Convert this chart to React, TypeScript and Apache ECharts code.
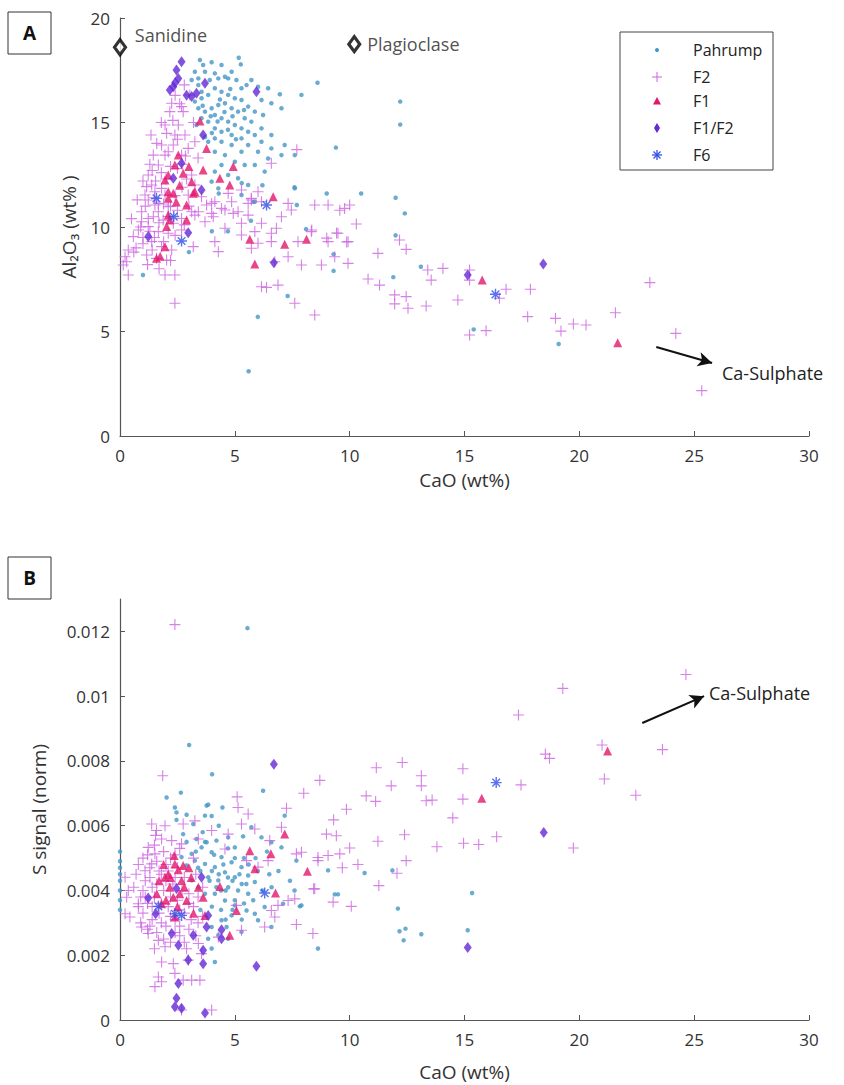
import React, { useEffect, useRef } from "react";
import * as echarts from "echarts";

// ---------- tick values ----------
const xTicks = [0, 5, 10, 15, 20, 25, 30];
const yTicksA = [0, 5, 10, 15, 20];
const yTicksB = [0, 0.002, 0.004, 0.006, 0.008, 0.01, 0.012];

const seriesNames = ["Pahrump", "F2", "F1", "F1/F2", "F6"];

// ---------- Panel A : Al2O3 vs CaO ----------
const pahrumpA = [
  [3.48, 17.99], [3.62, 17.75], [3.99, 17.88], [4.42, 17.75], [5.17, 18.1], [5.26, 17.78], [4.86, 17.43], [4.57, 17.19],
  [4.13, 17.35], [3.26, 17.43], [3.7, 17.43], [3.41, 17.11], [3.91, 17.03], [4.28, 17.11], [4.71, 17.11], [5.07, 17.03],
  [5.29, 16.64], [5.51, 16.79], [5.72, 17.03], [6.01, 16.71], [6.45, 16.64], [6.96, 16.35], [7.9, 16.32], [6.16, 16.08],
  [6.59, 15.92], [7.03, 15.68], [6.23, 15.36], [5.87, 15.52], [5.58, 15.76], [5.29, 16.08], [5.0, 16.16], [4.71, 16.32],
  [4.42, 16.47], [4.13, 16.64], [3.84, 16.32], [3.55, 16.16], [3.26, 16.0], [3.41, 15.68], [3.7, 15.52], [3.99, 15.68],
  [4.28, 15.84], [4.57, 15.92], [4.86, 15.68], [5.14, 15.52], [5.43, 15.2], [5.72, 15.04], [6.16, 14.72], [6.59, 14.4],
  [7.17, 13.92], [7.61, 13.44], [7.03, 13.44], [6.59, 13.76], [6.16, 14.08], [5.87, 14.4], [5.58, 14.56], [5.29, 14.72],
  [5.0, 14.88], [4.71, 15.04], [4.42, 15.2], [4.13, 15.36], [3.84, 15.04], [3.55, 15.2], [3.33, 14.88], [4.13, 14.72],
  [4.42, 14.56], [4.86, 14.4], [5.29, 14.24], [5.58, 13.92], [6.01, 13.6], [6.45, 13.28], [5.29, 13.6], [4.86, 13.92],
  [4.42, 14.08], [4.13, 14.24], [3.84, 14.08], [4.13, 13.6], [4.57, 13.44], [5.0, 13.12], [5.43, 12.97], [5.87, 12.97],
  [6.3, 12.65], [4.42, 12.97], [4.13, 12.65], [4.71, 12.49], [5.14, 12.33], [5.58, 12.01], [7.61, 11.85], [3.99, 12.17],
  [4.28, 11.85], [5.29, 11.53], [5.87, 11.21], [3.55, 16.47], [3.41, 16.79], [3.12, 17.03],
  [3.6, 15.8], [3.95, 15.3], [4.25, 15.05], [4.55, 15.5], [4.9, 15.3], [4.7, 14.65], [4.0, 14.5], [3.7, 14.3],
  [4.35, 16.1], [4.8, 16.6], [5.4, 15.6], [5.05, 14.2],
  [8.6, 16.9], [12.2, 16.0], [12.2, 14.9], [9.4, 13.8], [9.0, 11.6], [10.5, 11.6], [12.0, 11.4], [12.4, 10.65],
  [12.0, 9.6], [1.0, 7.7], [3.0, 8.8], [4.0, 9.8], [4.7, 9.8], [5.7, 10.3], [6.0, 5.7], [5.6, 3.1], [7.3, 6.7],
  [8.1, 9.9], [9.3, 7.9], [9.3, 8.7], [11.9, 7.6], [13.1, 8.1], [15.4, 5.1], [19.1, 4.4], [6.2, 12.0], [7.6, 11.9],
  [7.7, 11.05], [5.8, 11.2], [4.3, 11.6], [5.3, 12.1],
];

const f2A = [
  [2.25, 15.92], [2.68, 15.76], [2.17, 15.52], [1.96, 14.88], [2.54, 14.88], [2.03, 14.48], [2.39, 14.4], [2.83, 14.4],
  [1.81, 13.92], [2.32, 13.92], [1.45, 13.44], [1.96, 13.44], [1.67, 12.97], [1.23, 12.49], [1.38, 12.01], [1.81, 11.85],
  [1.09, 11.53], [1.52, 11.05], [0.94, 10.73], [1.23, 10.41], [1.67, 10.73], [2.97, 11.53], [3.26, 12.01], [3.12, 12.49],
  [2.68, 13.44], [2.97, 13.76], [3.26, 14.08], [2.75, 15.52], [3.04, 16.32], [3.55, 11.45], [3.77, 11.05], [4.13, 11.21],
  [4.42, 10.89], [4.86, 11.21], [5.14, 10.73], [5.58, 10.57], [3.12, 10.73], [2.68, 10.41],
  [1.16, 11.93], [1.52, 11.69], [1.96, 11.53], [1.23, 11.29], [1.67, 11.13], [2.1, 10.97], [1.45, 10.49], [1.88, 10.33],
  [2.32, 10.18], [1.23, 10.02], [1.67, 9.78], [2.1, 9.7], [1.38, 9.3], [1.81, 9.06], [2.25, 8.9], [1.16, 8.66],
  [1.59, 8.5], [0.22, 8.58], [0.29, 8.34], [0.14, 8.18], [0.58, 9.54], [0.94, 10.25], [2.68, 9.86],
  [1.5, 9.5], [2.0, 12.3], [2.5, 12.8], [1.3, 13.0], [2.2, 11.0], [0.7, 9.0], [1.0, 9.2], [2.7, 13.0], [2.9, 12.3],
  [3.4, 13.3], [2.4, 16.3], [2.8, 16.8], [3.2, 15.0],
  [1.0, 12.2], [1.4, 12.7], [1.8, 12.6], [2.2, 12.9], [1.1, 11.0], [1.5, 11.4], [1.9, 11.1], [2.4, 11.5], [2.7, 11.9],
  [0.9, 10.0], [1.3, 9.8], [1.7, 10.2], [2.1, 10.5], [2.5, 10.8], [1.0, 9.5], [1.4, 8.9], [1.9, 9.3], [2.4, 9.6],
  [2.8, 10.1], [0.6, 8.8], [1.2, 8.2], [1.7, 8.0], [2.2, 8.4], [0.5, 10.4], [1.6, 14.0], [2.1, 13.6], [2.5, 14.2],
  [1.8, 15.0], [2.3, 15.1], [2.6, 15.9], [1.55, 12.2], [2.85, 13.4], [0.75, 11.3], [1.35, 14.4], [3.0, 11.0],
  [0.8, 9.86], [0.36, 8.9], [0.36, 7.7], [1.96, 7.7], [2.39, 7.7], [2.39, 6.35], [2.03, 8.42], [3.19, 9.06], [4.13, 9.3],
  [4.28, 8.82], [4.06, 10.49], [4.57, 10.81], [4.93, 10.65], [5.29, 10.18], [5.58, 11.13], [5.72, 11.37], [6.16, 10.18],
  [6.59, 9.7], [6.81, 9.94], [6.59, 9.3], [6.16, 7.14], [6.88, 7.22], [7.61, 6.35], [8.48, 5.79], [7.32, 8.58],
  [7.9, 8.18], [8.77, 8.18], [9.06, 9.3], [9.49, 9.7], [9.93, 9.3], [9.78, 10.89], [8.48, 11.05], [9.06, 11.05],
  [7.32, 11.13], [7.46, 10.81], [8.33, 9.78], [7.75, 9.3], [9.35, 8.58], [9.93, 8.26], [4.57, 9.94], [5.29, 9.62],
  [5.72, 8.98], [6.01, 9.22], [3.7, 10.25], [3.41, 10.73], [3.99, 11.13], [4.71, 11.61], [5.29, 11.77], [6.01, 11.69],
  [6.74, 8.34], [5.87, 9.78], [3.99, 10.65],
  [10.29, 10.14], [11.23, 8.74], [12.46, 8.93], [10.8, 7.51], [11.3, 7.22], [11.96, 6.75], [12.46, 6.67], [11.96, 6.32],
  [12.54, 6.11], [13.33, 6.22], [13.4, 7.94], [13.55, 7.46], [14.06, 8.02], [14.71, 6.51], [15.22, 7.46], [15.22, 4.83],
  [15.94, 5.04], [15.22, 7.94], [6.38, 7.11],
  [16.81, 7.02], [16.52, 6.59], [17.87, 7.02], [17.75, 5.71], [18.96, 5.63], [19.2, 5.02], [19.74, 5.36], [20.29, 5.31],
  [21.57, 5.9], [23.07, 7.34], [24.2, 4.91], [25.33, 2.17],
  [9.57, 10.8], [10.0, 11.05], [8.35, 9.86], [9.0, 9.47], [9.43, 9.71], [9.87, 9.28], [12.17, 9.38], [7.7, 13.7],
  [6.59, 13.05], [5.72, 11.29], [6.16, 11.21], [7.03, 10.49], [3.26, 10.57],
];

const f1A = [
  [3.48, 15.07], [3.77, 13.76], [4.93, 12.89], [4.35, 12.33], [4.78, 12.01], [3.62, 12.73], [3.12, 12.17], [2.54, 13.44],
  [2.39, 12.97], [2.1, 12.49], [1.96, 12.25], [2.75, 12.57], [3.26, 11.69], [6.67, 11.45], [2.1, 11.69], [2.1, 10.57],
  [2.9, 11.05], [2.1, 11.37], [2.32, 11.61], [2.9, 10.33], [2.17, 10.33], [2.03, 10.02], [1.96, 9.06], [1.59, 8.5],
  [3.19, 11.61], [5.65, 9.41], [7.17, 9.17], [8.12, 9.41], [5.87, 8.23], [15.77, 7.46], [21.67, 4.46], [2.6, 12.0],
  [2.45, 11.2], [3.0, 12.9], [1.75, 8.6],
];

const f12A = [
  [2.68, 17.91], [2.46, 17.51], [2.54, 17.11], [2.32, 16.71], [2.17, 16.55], [3.12, 16.24], [3.33, 16.4], [3.7, 16.88],
  [3.62, 14.4], [2.68, 13.05], [2.32, 12.33], [3.55, 11.77], [5.94, 16.47], [2.97, 9.73], [1.23, 9.54], [6.7, 8.29],
  [15.14, 7.7], [18.43, 8.23], [2.9, 16.3], [2.4, 16.9],
];

const f6A = [[1.59, 11.37], [2.34, 10.5], [2.68, 9.33], [6.38, 11.05], [16.35, 6.78]];

// ---------- Panel B : S signal vs CaO ----------
const pahrumpB = [
  [3.01, 0.00849], [5.55, 0.0121], [4.01, 0.00759], [2.65, 0.00702], [2.03, 0.00687], [6.23, 0.00708], [2.39, 0.00656],
  [3.77, 0.00662], [4.46, 0.00656], [7.17, 0.00631], [2.46, 0.00641], [2.9, 0.00634], [2.46, 0.00618], [3.84, 0.00665],
  [3.7, 0.00631], [3.99, 0.0063], [3.19, 0.00605], [2.75, 0.00574], [3.33, 0.00559], [3.77, 0.00549], [4.2, 0.00554],
  [4.71, 0.00564], [5.0, 0.00533], [5.36, 0.00567], [5.72, 0.00595], [6.16, 0.00564], [6.59, 0.00549], [7.03, 0.00533],
  [7.68, 0.00492], [8.62, 0.00221], [7.83, 0.00351],
  [2.68, 0.00503], [3.12, 0.00513], [3.55, 0.00533], [3.99, 0.00518], [4.42, 0.00503], [4.86, 0.00487], [5.29, 0.00472],
  [4.13, 0.00472], [3.7, 0.00482], [3.26, 0.00492], [2.9, 0.00477], [4.57, 0.00456], [5.0, 0.00441], [5.58, 0.00446],
  [5.87, 0.00426], [3.84, 0.00441], [4.28, 0.00431], [4.71, 0.0041], [5.14, 0.004], [5.58, 0.0039], [4.13, 0.0039],
  [4.57, 0.00369], [5.0, 0.00354], [5.51, 0.00338], [5.87, 0.00328], [4.86, 0.00323], [4.42, 0.00308], [3.99, 0.00287],
  [4.28, 0.00262], [4.71, 0.00251], [3.84, 0.00251], [3.99, 0.00221], [4.13, 0.00179], [4.64, 0.00287], [5.29, 0.00272],
  [6.01, 0.00308], [6.59, 0.00287], [6.3, 0.00349], [7.1, 0.00359], [3.41, 0.0041], [3.12, 0.00431],
  [0, 0.0052], [0, 0.0049], [0, 0.0047], [0, 0.0045], [0, 0.0043], [0, 0.004], [0, 0.0037], [0, 0.0034],
  [9.06, 0.00462], [10.65, 0.00454], [11.86, 0.00462], [9.35, 0.00388], [9.49, 0.00388], [12.1, 0.00344], [15.33, 0.00392],
  [7.9, 0.00354], [12.17, 0.00274], [12.43, 0.00282], [12.35, 0.00246], [13.12, 0.00265], [15.14, 0.00277],
  [3.4, 0.0047], [4.0, 0.0046], [4.9, 0.0043], [5.3, 0.0042], [4.4, 0.004], [5.8, 0.0037], [6.6, 0.0041], [6.0, 0.0046],
  [6.9, 0.0046], [5.4, 0.005], [4.7, 0.0053], [3.6, 0.0058], [4.3, 0.006], [6.4, 0.0052], [7.4, 0.0043], [7.6, 0.004],
  [2.9, 0.0055], [3.3, 0.0052], [3.7, 0.0055], [4.1, 0.0051], [4.5, 0.0048], [5.0, 0.005], [5.6, 0.0048], [3.5, 0.0046],
  [3.9, 0.0043], [4.3, 0.0045], [4.7, 0.0044], [5.2, 0.0045], [5.5, 0.0042], [3.7, 0.0039], [4.2, 0.0041], [4.6, 0.004],
  [5.0, 0.0037], [5.4, 0.0036], [6.2, 0.004], [4.0, 0.0035], [4.4, 0.0034], [4.9, 0.0034], [5.3, 0.0031], [3.5, 0.0034],
  [4.6, 0.0031], [6.5, 0.0045], [5.9, 0.005],
];

const f2B = [
  [24.64, 0.01067], [19.28, 0.01024], [17.35, 0.00942], [18.52, 0.00821], [18.7, 0.00808], [20.99, 0.00849], [23.62, 0.00835],
  [21.09, 0.00744], [22.46, 0.00694], [17.46, 0.00726], [14.93, 0.00776], [14.93, 0.00682], [14.49, 0.00624], [13.33, 0.00677],
  [13.12, 0.00754], [13.12, 0.00723], [12.29, 0.00795], [11.16, 0.00779], [11.81, 0.00723], [10.72, 0.00692], [11.13, 0.00675],
  [8.7, 0.0074], [8.0, 0.007], [9.86, 0.00651], [9.3, 0.00618], [8.99, 0.00574], [9.42, 0.00569], [10.0, 0.00531],
  [9.57, 0.00513], [9.06, 0.00508], [8.62, 0.00502], [11.23, 0.00552], [12.39, 0.00572], [13.8, 0.00535], [14.96, 0.00546],
  [15.62, 0.00542], [16.4, 0.00566], [19.74, 0.00531],
  [9.68, 0.0047], [10.36, 0.0048], [8.43, 0.00405], [9.28, 0.00364], [10.07, 0.00351], [11.27, 0.00415], [12.06, 0.00453],
  [12.46, 0.00492], [13.59, 0.00679], [7.68, 0.00295],
  [2.39, 0.01221], [1.86, 0.00754], [5.1, 0.00689], [5.14, 0.00656], [7.25, 0.00654],
  [5.58, 0.00636], [1.38, 0.00605], [1.96, 0.006], [1.59, 0.00585], [2.75, 0.00605], [3.26, 0.00615], [3.99, 0.00585],
  [4.71, 0.00574], [5.29, 0.00605], [5.87, 0.0059], [6.52, 0.00554], [7.03, 0.00595], [7.68, 0.00513], [7.9, 0.00518],
  [8.62, 0.00492], [8.48, 0.00405], [8.4, 0.00267], [7.61, 0.00374], [7.32, 0.00369], [6.88, 0.00354], [6.59, 0.00338],
  [6.3, 0.00287], [5.29, 0.00277], [6.74, 0.00318], [6.01, 0.00472], [6.45, 0.00492], [5.51, 0.00492], [4.57, 0.00528],
  [3.41, 0.00559], [2.68, 0.00544], [2.25, 0.00554], [1.81, 0.00559], [1.23, 0.00533], [1.52, 0.00513], [1.38, 0.00482],
  [1.09, 0.00461], [0.22, 0.00441], [0.36, 0.004], [0.29, 0.00379], [0.22, 0.00328], [0.43, 0.00318], [0.8, 0.00359],
  [0.94, 0.00287], [1.23, 0.00267], [1.67, 0.00246], [1.96, 0.00226], [1.81, 0.00179], [1.67, 0.00133], [1.81, 0.00118],
  [1.52, 0.00103], [2.75, 0.00123], [3.12, 0.00123], [3.48, 0.00123], [2.39, 0.00144], [2.32, 0.00174], [2.97, 0.00185],
  [3.55, 0.00205], [4.28, 0.00256], [3.41, 0.00236], [3.99, 0.00031], [2.68, 0.00031], [5.07, 0.00354],
  [1.0, 0.005], [1.3, 0.0047], [1.6, 0.0049], [1.9, 0.0052], [2.2, 0.005], [1.1, 0.0043], [1.4, 0.0041], [1.8, 0.0045],
  [2.1, 0.0046], [2.5, 0.0047], [0.9, 0.0038], [1.2, 0.0036], [1.5, 0.0038], [1.9, 0.004], [2.3, 0.0042], [2.8, 0.0044],
  [1.0, 0.0033], [1.4, 0.0031], [1.7, 0.0033], [2.1, 0.0035], [2.5, 0.0037], [3.0, 0.0039], [1.2, 0.0028], [1.6, 0.0027],
  [2.0, 0.0029], [2.4, 0.0031], [2.8, 0.0033], [3.2, 0.0035], [1.5, 0.0022], [2.2, 0.0024], [2.6, 0.0026], [3.0, 0.0028],
  [3.4, 0.003], [2.9, 0.0022], [3.3, 0.0045], [3.6, 0.0041], [3.2, 0.005], [2.6, 0.0053], [0.7, 0.0045], [0.6, 0.0041],
  [1.2, 0.0051], [1.5, 0.0054], [1.7, 0.0046], [2.0, 0.0048], [2.4, 0.0051], [0.8, 0.0048], [1.0, 0.004], [1.3, 0.0044],
  [1.6, 0.0042], [2.0, 0.0043], [2.4, 0.0044], [2.7, 0.004], [0.8, 0.0035], [1.1, 0.0038], [1.4, 0.0035], [1.8, 0.0036],
  [2.2, 0.0038], [2.6, 0.0034], [3.0, 0.0036], [0.9, 0.003], [1.3, 0.0029], [1.8, 0.003], [2.2, 0.0032], [2.6, 0.0029],
  [3.1, 0.0031], [1.9, 0.0025], [2.4, 0.0027], [2.8, 0.0024], [3.3, 0.0026], [3.6, 0.0032], [3.4, 0.0038], [1.55, 0.0057],
];

const f1B = [
  [2.36, 0.00508], [2.54, 0.00464], [1.96, 0.00441], [2.68, 0.00431], [2.17, 0.0041], [2.32, 0.00379], [2.9, 0.00369],
  [1.81, 0.00359], [3.62, 0.00379], [3.41, 0.0041], [4.35, 0.00412], [3.7, 0.00323], [4.78, 0.00262], [5.07, 0.00338],
  [5.65, 0.00523], [5.87, 0.00467], [6.57, 0.00513], [7.17, 0.00574], [6.77, 0.00392], [8.16, 0.00459], [2.39, 0.00318],
  [2.39, 0.00482], [2.75, 0.00477], [15.75, 0.00685], [21.23, 0.00831], [2.1, 0.0045], [2.6, 0.0039], [3.1, 0.0044],
  [2.0, 0.0037], [1.7, 0.0043], [1.9, 0.0048], [2.2, 0.0044], [2.8, 0.0041], [2.5, 0.0035], [3.2, 0.0033], [1.6, 0.0039],
  [3.0, 0.0047],
];

const f12B = [
  [1.23, 0.00377], [1.55, 0.00328], [2.25, 0.00267], [2.54, 0.00231], [3.19, 0.00262], [3.77, 0.00287], [3.84, 0.00323],
  [3.62, 0.00215], [2.97, 0.00185], [3.62, 0.00174], [4.42, 0.00251], [4.42, 0.00279], [5.94, 0.00166], [2.54, 0.00113],
  [2.46, 0.00067], [2.39, 0.00041], [2.68, 0.00036], [3.7, 0.00022], [3.55, 0.00441], [2.46, 0.00406], [6.7, 0.0079],
  [18.45, 0.00579], [15.14, 0.00224],
];

const f6B = [[1.67, 0.00351], [2.39, 0.00328], [2.68, 0.00323], [6.3, 0.00392], [16.38, 0.00733]];

// ---------- annotations ----------
const mineralNames = ["Sanidine", "Plagioclase"];
const mineralA = [[0, 18.6], [10.2, 18.75]];
const arrowA = [[23.35, 4.26], [25.78, 3.49]];
const arrowB = [[22.74, 0.00917], [25.43, 0.01]];
const arrowLabel = "Ca-Sulphate";

// ---------- styles ----------
const FONT = "'Open Sans', 'Noto Sans', sans-serif";
const COLORS = ["#4496c6", "#cc62e0", "#e3186c", "#6428d6", "#2f4fe8"];
const PLUS = "path://M0,5L10,5M5,0L5,10";
const STAR = "path://M5,0L5,10M0,5L10,5M1.5,1.5L8.5,8.5M1.5,8.5L8.5,1.5";
const AXIS_COLOR = "#555";
const TEXT_COLOR = "#333";

function makeSeries(panel: number, sets: number[][][]) {
  const specs = [
    { symbol: "circle", symbolSize: 4.5, itemStyle: { color: COLORS[0] } },
    { symbol: PLUS, symbolSize: 11, itemStyle: { color: "rgba(0,0,0,0)", borderColor: COLORS[1], borderWidth: 1.1 } },
    { symbol: "triangle", symbolSize: 9, itemStyle: { color: COLORS[2] } },
    { symbol: "diamond", symbolSize: [8, 11], itemStyle: { color: COLORS[3] } },
    { symbol: STAR, symbolSize: 11, itemStyle: { color: "rgba(0,0,0,0)", borderColor: COLORS[4], borderWidth: 1.4 } },
  ];
  return sets.map((data, i) => ({
    type: "scatter",
    name: seriesNames[i],
    xAxisIndex: panel,
    yAxisIndex: panel,
    data,
    z: 2 + i,
    silent: true,
    ...specs[i],
  }));
}

function xAxis(i: number) {
  return {
    gridIndex: i,
    type: "value",
    min: 0,
    max: 30,
    interval: 5,
    name: "CaO (wt%)",
    nameLocation: "middle",
    nameGap: i === 0 ? 34 : 42,
    nameTextStyle: { fontSize: 19, color: TEXT_COLOR, fontFamily: FONT },
    axisLine: { show: true, onZero: false, lineStyle: { color: AXIS_COLOR, width: 1.2 } },
    axisTick: { show: true, inside: true, length: 5, lineStyle: { color: AXIS_COLOR } },
    axisLabel: { fontSize: 17, color: TEXT_COLOR, margin: 11, fontFamily: FONT },
    splitLine: { show: false },
  };
}

const option = {
  animation: false,
  backgroundColor: "#ffffff",
  grid: [
    { left: 120, top: 18, width: 689, height: 418 },
    { left: 120, top: 599, width: 689, height: 421 },
  ],
  xAxis: [xAxis(0), xAxis(1)],
  yAxis: [
    {
      gridIndex: 0,
      type: "value",
      min: 0,
      max: 20,
      interval: 5,
      name: "Al₂O₃ (wt% )",
      nameLocation: "middle",
      nameGap: 42,
      nameTextStyle: { fontSize: 19, color: TEXT_COLOR, fontFamily: FONT },
      axisLine: { show: true, onZero: false, lineStyle: { color: AXIS_COLOR, width: 1.2 } },
      axisTick: { show: true, inside: true, length: 5, lineStyle: { color: AXIS_COLOR } },
      axisLabel: { fontSize: 17, color: TEXT_COLOR, margin: 10, fontFamily: FONT },
      splitLine: { show: false },
    },
    {
      gridIndex: 1,
      type: "value",
      min: 0,
      max: 0.013,
      name: "S signal (norm)",
      nameLocation: "middle",
      nameGap: 72,
      nameTextStyle: { fontSize: 19, color: TEXT_COLOR, fontFamily: FONT },
      axisLine: { show: true, onZero: false, lineStyle: { color: AXIS_COLOR, width: 1.2 } },
      axisTick: { show: true, inside: true, length: 5, lineStyle: { color: AXIS_COLOR }, customValues: yTicksB },
      axisLabel: {
        fontSize: 17,
        color: TEXT_COLOR,
        margin: 10,
        fontFamily: FONT,
        customValues: yTicksB,
        formatter: (v: number) => String(parseFloat(v.toFixed(4))),
      },
      splitLine: { show: false },
    },
  ],
  series: [
    ...makeSeries(0, [pahrumpA, f2A, f1A, f12A, f6A]),
    ...makeSeries(1, [pahrumpB, f2B, f1B, f12B, f6B]),
    {
      type: "scatter",
      name: "minerals",
      xAxisIndex: 0,
      yAxisIndex: 0,
      symbol: "diamond",
      symbolSize: [11, 15],
      z: 10,
      silent: true,
      itemStyle: { color: "#ffffff", borderColor: "#000", borderWidth: 3.2 },
      data: mineralA.map((v, i) => ({
        value: v,
        name: mineralNames[i],
        label: {
          show: true,
          formatter: "{b}",
          position: "right",
          distance: 6,
          offset: i === 0 ? [2, -12] : [0, 0],
          fontSize: 18,
          color: "#222",
          fontFamily: FONT,
        },
      })),
      markLine: {
        silent: true,
        symbol: ["none", "arrow"],
        symbolSize: [11, 14],
        label: { show: false },
        lineStyle: { color: "#111", width: 2, type: "solid" },
        data: [[{ coord: arrowA[0] }, { coord: arrowA[1] }]],
      },
    },
    {
      type: "scatter",
      name: "annotB",
      xAxisIndex: 1,
      yAxisIndex: 1,
      data: [],
      silent: true,
      markLine: {
        silent: true,
        symbol: ["none", "arrow"],
        symbolSize: [11, 14],
        label: { show: false },
        lineStyle: { color: "#111", width: 2, type: "solid" },
        data: [[{ coord: arrowB[0] }, { coord: arrowB[1] }]],
      },
    },
  ],
  graphic: [
    { type: "rect", shape: { x: 8, y: 12, width: 43, height: 42 }, style: { fill: "#fff", stroke: "#333", lineWidth: 1 } },
    { type: "text", x: 29.5, y: 33, style: { text: "A", fill: "#111", fontSize: 19, fontWeight: "bold", fontFamily: FONT, align: "center", verticalAlign: "middle" } },
    { type: "rect", shape: { x: 8, y: 557, width: 43, height: 42 }, style: { fill: "#fff", stroke: "#333", lineWidth: 1 } },
    { type: "text", x: 29.5, y: 578, style: { text: "B", fill: "#111", fontSize: 19, fontWeight: "bold", fontFamily: FONT, align: "center", verticalAlign: "middle" } },
    { type: "text", x: 722, y: 373, style: { text: arrowLabel, fill: "#222", fontSize: 18, fontFamily: FONT, verticalAlign: "middle" } },
    { type: "text", x: 709, y: 693, style: { text: arrowLabel, fill: "#222", fontSize: 18, fontFamily: FONT, verticalAlign: "middle" } },
    {
      type: "group",
      x: 620,
      y: 32,
      children: [
        { type: "rect", shape: { x: 0, y: 0, width: 153, height: 138 }, style: { fill: "#fff", stroke: "#444", lineWidth: 1 } },
        { type: "circle", shape: { cx: 37, cy: 18, r: 2 }, style: { fill: COLORS[0] } },
        { type: "line", shape: { x1: 32, y1: 45, x2: 42, y2: 45 }, style: { stroke: COLORS[1], lineWidth: 1 } },
        { type: "line", shape: { x1: 37, y1: 40, x2: 37, y2: 50 }, style: { stroke: COLORS[1], lineWidth: 1 } },
        { type: "polygon", shape: { points: [[37, 65], [41, 72.5], [33, 72.5]] }, style: { fill: COLORS[2] } },
        { type: "polygon", shape: { points: [[37, 91], [40, 96], [37, 101], [34, 96]] }, style: { fill: COLORS[3] } },
        { type: "line", shape: { x1: 37, y1: 118, x2: 37, y2: 128 }, style: { stroke: COLORS[4], lineWidth: 1.3 } },
        { type: "line", shape: { x1: 32, y1: 123, x2: 42, y2: 123 }, style: { stroke: COLORS[4], lineWidth: 1.3 } },
        { type: "line", shape: { x1: 33.5, y1: 119.5, x2: 40.5, y2: 126.5 }, style: { stroke: COLORS[4], lineWidth: 1.3 } },
        { type: "line", shape: { x1: 33.5, y1: 126.5, x2: 40.5, y2: 119.5 }, style: { stroke: COLORS[4], lineWidth: 1.3 } },
        ...seriesNames.map((n, i) => ({
          type: "text",
          x: 73,
          y: [18, 45, 69, 96, 123][i],
          style: { text: n, fill: "#222", fontSize: 16, fontFamily: FONT, verticalAlign: "middle" },
        })),
      ],
    },
  ],
};

export default function App() {
  const ref = useRef<HTMLDivElement>(null);
  useEffect(() => {
    document.body.style.margin = "0";
    const chart = echarts.init(ref.current!, null, { renderer: "svg" });
    chart.setOption(option as any);
    return () => chart.dispose();
  }, []);
  return <div ref={ref} style={{ width: 844, height: 1085 }} />;
}
